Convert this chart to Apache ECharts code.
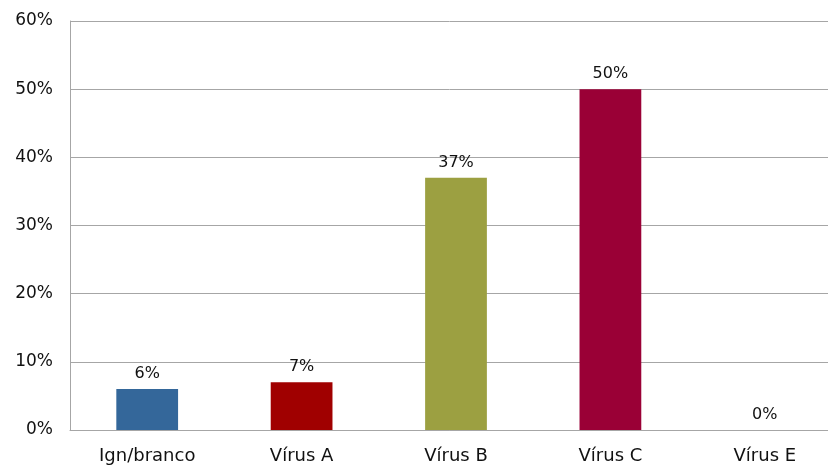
<!DOCTYPE html>
<html>
<head>
<meta charset="utf-8">
<script src="https://cdn.jsdelivr.net/npm/echarts@6/dist/echarts.min.js"></script>
<style>
  html, body { margin: 0; padding: 0; background: #fff; }
  #chart { width: 828px; height: 465px; }
</style>
</head>
<body>
<div id="chart"></div>
<script>
// Share of cases by virus type (%)
const categories = ['Ign/branco', 'Vírus A', 'Vírus B', 'Vírus C', 'Vírus E'];
const values = [6, 7, 37, 50, 0];
const barColors = ['#34679A', '#A00000', '#9CA041', '#9A0036', '#7F7F7F'];
const yTicks = [0, 10, 20, 30, 40, 50, 60];

const font = '"DejaVu Sans", sans-serif';
const chart = echarts.init(document.getElementById('chart'));
chart.setOption({
  animation: false,
  // the plot area runs past the right edge of the canvas
  grid: { left: 70, right: -14, top: 21, bottom: 35, containLabel: false, outerBoundsMode: 'none' },
  xAxis: {
    type: 'category',
    data: categories,
    axisLine: { lineStyle: { color: '#A6A6A6', width: 1 } },
    axisTick: { show: false },
    splitLine: { show: false },
    axisLabel: { color: '#111', fontSize: 18, fontFamily: font, margin: 17 }
  },
  yAxis: {
    type: 'value',
    min: yTicks[0],
    max: yTicks[yTicks.length - 1],
    interval: 10,
    axisLine: { show: true, lineStyle: { color: '#A6A6A6', width: 1 } },
    axisTick: { show: false },
    splitLine: { lineStyle: { color: '#A6A6A6', width: 1 } },
    axisLabel: { color: '#111', fontSize: 17, fontFamily: font, margin: 17, formatter: '{value}%' }
  },
  series: [{
    type: 'bar',
    barWidth: '40%',
    data: values.map((v, i) => ({ value: v, itemStyle: { color: barColors[i] } })),
    label: {
      show: true,
      position: 'top',
      distance: 7,
      color: '#111',
      fontSize: 16,
      fontFamily: font,
      formatter: '{c}%'
    }
  }]
});
</script>
</body>
</html>
